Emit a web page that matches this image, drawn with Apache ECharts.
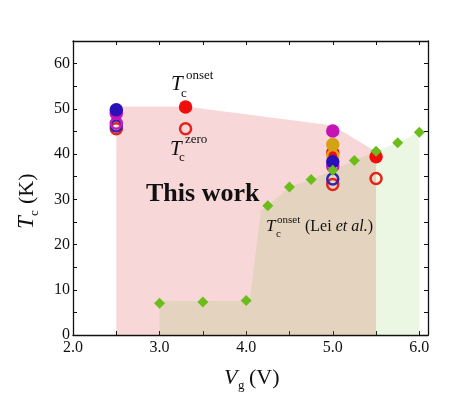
<!DOCTYPE html>
<html>
<head>
<meta charset="utf-8">
<script src="https://cdn.jsdelivr.net/npm/echarts@6/dist/echarts.min.js"></script>
<style>
  html, body { margin: 0; padding: 0; background: #fff; }
  #chart { width: 463px; height: 395px; }
</style>
</head>
<body>
<div id="chart"></div>
<script>
// envelopes (shaded regions)
const thisWorkEnvelope = [[2.5, 0], [2.5, 50.5], [3.3, 50.5], [5.0, 46.3], [5.5, 40.5], [5.5, 0]];
const leiEnvelope = [[3.0, 0], [3.0, 7.5], [4.04, 7.5], [4.17, 27.5], [4.25, 28.6], [4.5, 32.7], [4.75, 34.4],
    [5.0, 36.4], [5.25, 38.6], [5.5, 40.6], [5.75, 42.5], [6.0, 44.8], [6.0, 0]];

// Lei et al. onset Tc (diamonds)
const leiOnset = [[3.0, 7.0], [3.5, 7.3], [4.0, 7.6], [4.25, 28.6], [4.5, 32.7], [4.75, 34.4],
    [5.0, 36.4], [5.25, 38.6], [5.5, 40.6], [5.75, 42.5], [6.0, 44.8]];

// this work: filled = onset, open = zero
const redOnset = [[3.3, 50.4], [5.0, 40.3], [5.5, 39.4]];
const redZero = [[2.5, 45.6], [3.3, 45.6], [5.0, 33.3], [5.5, 34.6]];
const magentaOnset = [[2.5, 49.0], [5.0, 45.1]];
const magentaZero = [[2.5, 46.8], [5.0, 37.3]];
const goldOnset = [[5.0, 42.1]];
const goldZero = [[5.0, 39.7]];
const blueOnset = [[2.5, 49.8], [5.0, 38.3]];
const blueZero = [[2.5, 46.2], [5.0, 34.5]];

const SERIF = '"Liberation Serif", "DejaVu Serif", serif';

const chart = echarts.init(document.getElementById('chart'));

function filled(name, data, color) {
    return {
        name: name, type: 'scatter', data: data, symbol: 'circle', symbolSize: 13.5,
        itemStyle: { color: color, opacity: 1 }, z: 5
    };
}

function open(name, data, color) {
    return {
        name: name, type: 'scatter', data: data, symbol: 'circle', symbolSize: 11,
        itemStyle: { color: 'rgba(0,0,0,0)', borderColor: color, borderWidth: 2.5, opacity: 1 }, z: 5
    };
}

// text pieces: T with subscript / superscript
function txt(x, y, text, size, style, weight) {
    return {
        type: 'text', x: x, y: y, z: 20,
        style: {
            text: text, fontFamily: SERIF, fontSize: size,
            fontStyle: style || 'normal', fontWeight: weight || 'normal',
            fill: '#111', align: 'left', verticalAlign: 'middle'
        }
    };
}

const axisFont = { fontFamily: SERIF, fontSize: 16, color: '#111' };

const option = {
    animation: false,
    backgroundColor: '#fff',
    grid: { left: 73, right: 35, top: 41, bottom: 60 },
    xAxis: [{
        type: 'value', min: 2, max: 6.1, interval: 0.5, position: 'bottom',
        axisLine: { onZero: false, lineStyle: { color: '#111', width: 1.3 } },
        axisTick: { inside: true, length: 4, lineStyle: { color: '#111' } },
        axisLabel: Object.assign({
            margin: 5, showMaxLabel: false,
            formatter: v => (Math.abs(v - Math.round(v)) < 1e-6 ? v.toFixed(1) : '')
        }, axisFont),
        splitLine: { show: false }
    }, {
        type: 'value', min: 2, max: 6.1, interval: 0.5, position: 'top',
        axisLine: { onZero: false, lineStyle: { color: '#111', width: 1.3 } },
        axisTick: { inside: true, length: 4, lineStyle: { color: '#111' } },
        axisLabel: { show: false },
        splitLine: { show: false }
    }],
    yAxis: [{
        type: 'value', min: 0, max: 65, interval: 5, position: 'left',
        axisLine: { show: true, onZero: false, lineStyle: { color: '#111', width: 1.3 } },
        axisTick: { show: true, inside: true, length: 4, lineStyle: { color: '#111' } },
        axisLabel: Object.assign({
            margin: 3, showMaxLabel: false,
            formatter: v => (v % 10 === 0 ? String(v) : '')
        }, axisFont),
        splitLine: { show: false }
    }, {
        type: 'value', min: 0, max: 65, interval: 5, position: 'right',
        axisLine: { show: true, onZero: false, lineStyle: { color: '#111', width: 1.3 } },
        axisTick: { show: true, inside: true, length: 4, lineStyle: { color: '#111' } },
        axisLabel: { show: false },
        splitLine: { show: false }
    }],
    series: [
        {
            name: 'This work', type: 'line', data: thisWorkEnvelope, showSymbol: false, silent: true,
            lineStyle: { width: 0 }, areaStyle: { color: 'rgba(210,40,40,0.27)', origin: 'start' }, z: 1
        },
        {
            name: 'Lei region', type: 'line', data: leiEnvelope, showSymbol: false, silent: true,
            lineStyle: { width: 0 }, areaStyle: { color: 'rgba(116,199,50,0.2)', origin: 'start' }, z: 2
        },
        open('red zero', redZero, '#e3241a'),
        open('blue zero', blueZero, '#3324b0'),
        open('magenta zero', magentaZero, '#c41cb4'),
        filled('red onset', redOnset, '#f20d0d'),
        open('gold zero', goldZero, '#d9a41c'),
        filled('magenta onset', magentaOnset, '#c613b6'),
        filled('gold onset', goldOnset, '#d6a215'),
        filled('blue onset', blueOnset, '#2a10b8'),
        {
            name: 'Lei et al.', type: 'scatter', data: leiOnset, symbol: 'diamond', symbolSize: 11,
            itemStyle: { color: '#6cbd1c', opacity: 1 }, z: 6
        }
    ],
    graphic: [
        // T_c^onset
        txt(171, 84, 'T', 21, 'italic'),
        txt(186, 76, 'onset', 13),
        txt(181, 94, 'c', 13),
        // T_c^zero
        txt(170, 149, 'T', 21, 'italic'),
        txt(185, 140, 'zero', 13),
        txt(179, 158, 'c', 13),
        // This work
        txt(146, 194, 'This work', 26, 'normal', 'bold'),
        // T_c^onset (Lei et al.)
        txt(266, 227, 'T', 17, 'italic'),
        txt(277, 220, 'onset', 11),
        txt(276, 234, 'c', 11),
        {
            type: 'text', x: 305, y: 227, z: 20,
            style: {
                text: '{n|(Lei }{i|et al.}{n|)}', align: 'left', verticalAlign: 'middle',
                rich: {
                    n: { fontFamily: SERIF, fontSize: 16, fill: '#111' },
                    i: { fontFamily: SERIF, fontSize: 16, fontStyle: 'italic', fill: '#111' }
                }
            }
        },
        // x axis title: V_g (V)
        txt(224, 378, 'V', 22, 'italic'),
        txt(238, 386, 'g', 13),
        txt(249, 378, '(V)', 22),
        // y axis title: T_c (K), rotated
        {
            type: 'group', x: 27, y: 200, rotation: Math.PI / 2,
            children: [
                txt(-29, 0, 'T', 23, 'italic'),
                txt(-16, 8, 'c', 13),
                txt(-4, 0, '(K)', 22)
            ]
        }
    ]
};

chart.setOption(option);
</script>
</body>
</html>
